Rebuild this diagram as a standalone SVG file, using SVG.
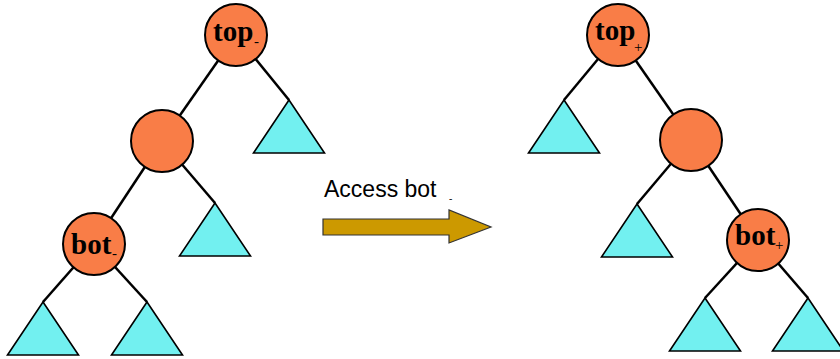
<svg xmlns="http://www.w3.org/2000/svg" width="840" height="359" viewBox="0 0 840 359">
  <style>
    .edge { stroke: #000; stroke-width: 2.5; fill: none; }
    .node { fill: #F97D47; stroke: #000; stroke-width: 2; }
    .sub { fill: #72F0F0; stroke: #000; stroke-width: 1.6; stroke-linejoin: miter; }
    .lbl { font-family: "Liberation Serif", "Times New Roman", serif; font-weight: bold; font-size: 29px; fill: #000; }
    .sm { font-family: "Liberation Serif", "Times New Roman", serif; font-size: 15px; fill: #000; }
    .cap { font-family: "Liberation Sans", Arial, sans-serif; font-size: 23px; fill: #000; }
  </style>
  <defs>
    <polygon id="tri" points="0,0 -35.5,53 35.5,53"/>
  </defs>

  <rect width="840" height="359" fill="#fff"/>

  <!-- tree edges -->
  <g id="connectors">
    <line class="edge" x1="236" y1="35" x2="162" y2="141"/>
    <line class="edge" x1="236" y1="35" x2="289" y2="100"/>
    <line class="edge" x1="162" y1="141" x2="94" y2="244"/>
    <line class="edge" x1="162" y1="141" x2="215" y2="203"/>
    <line class="edge" x1="94" y1="244" x2="43" y2="302"/>
    <line class="edge" x1="94" y1="244" x2="147" y2="302"/>

    <line class="edge" x1="618" y1="35" x2="564" y2="100"/>
    <line class="edge" x1="618" y1="35" x2="691" y2="140"/>
    <line class="edge" x1="691" y1="140" x2="637" y2="204"/>
    <line class="edge" x1="691" y1="140" x2="758" y2="240"/>
    <line class="edge" x1="758" y1="240" x2="705" y2="298"/>
    <line class="edge" x1="758" y1="240" x2="808" y2="298"/>
  </g>

  <!-- subtrees -->
  <g id="subtree-l1"><use href="#tri" class="sub" x="289" y="100"/></g>
  <g id="subtree-l2"><use href="#tri" class="sub" x="215" y="203"/></g>
  <g id="subtree-l3"><use href="#tri" class="sub" x="43" y="302"/></g>
  <g id="subtree-l4"><use href="#tri" class="sub" x="147" y="302"/></g>
  <g id="subtree-r1"><use href="#tri" class="sub" x="564" y="100"/></g>
  <g id="subtree-r2"><use href="#tri" class="sub" x="637" y="204"/></g>
  <g id="subtree-r3"><use href="#tri" class="sub" x="705" y="298"/></g>
  <g id="subtree-r4"><use href="#tri" class="sub" x="808" y="298"/></g>

  <!-- left tree nodes -->
  <g id="top-minus">
    <circle class="node" cx="236" cy="35" r="31"/>
    <text class="lbl" x="213" y="41">top</text>
    <text class="sm" x="254" y="46">-</text>
  </g>
  <g id="mid-left">
    <circle class="node" cx="162" cy="141" r="31"/>
  </g>
  <g id="bot-minus">
    <circle class="node" cx="94" cy="244" r="31"/>
    <text class="lbl" x="71" y="254">bot</text>
    <text class="sm" x="112" y="258">-</text>
  </g>

  <!-- right tree nodes -->
  <g id="top-plus">
    <circle class="node" cx="618" cy="35" r="31"/>
    <text class="lbl" x="595" y="40">top</text>
    <text class="sm" x="634" y="52">+</text>
  </g>
  <g id="mid-right">
    <circle class="node" cx="691" cy="140" r="31"/>
  </g>
  <g id="bot-plus">
    <circle class="node" cx="758" cy="240" r="31"/>
    <text class="lbl" x="735" y="245">bot</text>
    <text class="sm" x="775" y="250">+</text>
  </g>

  <!-- transition arrow -->
  <g id="access-arrow">
    <text class="cap" x="324" y="197">Access bot</text>
    <text class="sm" x="449" y="202" style="font-size:10px">-</text>
    <polygon points="323,219 449,219 449,210 491,227 449,243 449,235 323,235" fill="#CC9900" stroke="#333" stroke-width="1.2"/>
  </g>
</svg>
